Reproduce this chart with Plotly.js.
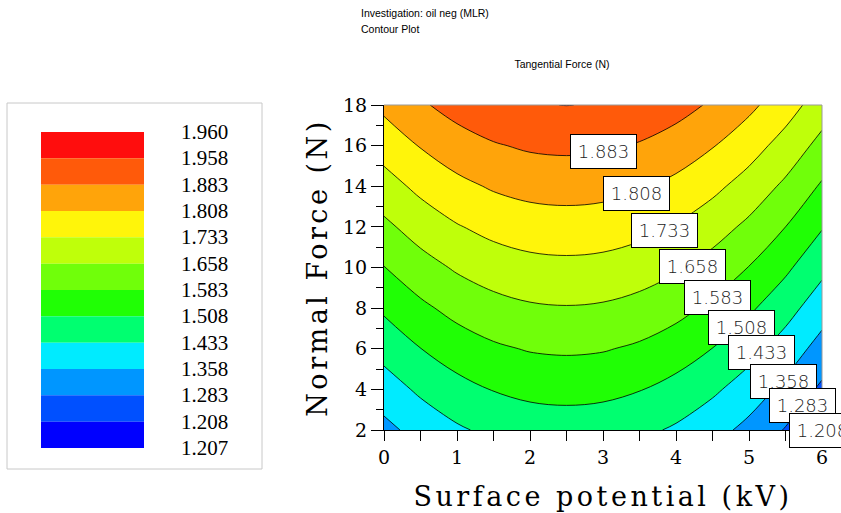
<!DOCTYPE html>
<html><head><meta charset="utf-8">
<script src="https://cdn.plot.ly/plotly-3.0.1.min.js"></script>
<style>
html,body{margin:0;padding:0;background:#fff;}
#chart{width:841px;height:513px;}
.xtitle,.ytitle{letter-spacing:3.5px;}
</style></head><body><div id="chart"></div>
<script>
// ---- data ----
const surfacePotential = [0, 0.5, 1, 1.5, 2, 2.5, 3, 3.5, 4, 4.5, 5, 5.5, 6];
const normalForce = [2, 4, 6, 8, 10, 12, 14, 16, 18];
const tangentialForce = [
  [1.337,1.385,1.423,1.450,1.466,1.471,1.466,1.450,1.423,1.385,1.337,1.278,1.205],
  [1.398,1.446,1.484,1.511,1.527,1.532,1.527,1.511,1.484,1.446,1.398,1.339,1.269],
  [1.459,1.507,1.545,1.572,1.588,1.593,1.588,1.572,1.545,1.507,1.459,1.400,1.330],
  [1.520,1.568,1.606,1.633,1.649,1.654,1.649,1.633,1.606,1.568,1.520,1.461,1.391],
  [1.581,1.629,1.667,1.694,1.710,1.715,1.710,1.694,1.667,1.629,1.581,1.522,1.452],
  [1.642,1.690,1.728,1.755,1.771,1.776,1.771,1.755,1.728,1.690,1.642,1.583,1.513],
  [1.703,1.751,1.789,1.816,1.832,1.837,1.832,1.816,1.789,1.751,1.703,1.644,1.574],
  [1.764,1.812,1.850,1.877,1.893,1.898,1.893,1.877,1.850,1.812,1.764,1.705,1.635],
  [1.825,1.873,1.911,1.938,1.954,1.959,1.954,1.938,1.911,1.873,1.825,1.766,1.696]
];
const legendLabels = ['1.960','1.958','1.883','1.808','1.733','1.658','1.583','1.508','1.433','1.358','1.283','1.208','1.207'];
const bandColors = ['#FF0D0D','#FF5A0A','#FFA40A','#FFF50A','#BFFF0A','#70FF0A','#20FF05','#00FF70','#00EBFF','#0096FF','#0050FF','#0000FF'];
const contourLabels = ['1.883','1.808','1.733','1.658','1.583','1.508','1.433','1.358','1.283','1.208'];

// ---- label placement (layout, pixel centres of the label boxes) ----
const labelPx = [603, 636, 664, 692, 717, 741, 761, 783, 802, 822];
const labelPy = [151, 193, 230, 266, 297, 327, 352, 381, 405, 431];

const W = 841, H = 513, L = 384, R = 19, T = 105, B = 83;
const pw = W - L - R, ph = H - T - B;
const px = v => (v - L) / pw;
const py = v => (H - B - v) / ph;

const nb = bandColors.length;
const colorscale = bandColors.slice().reverse().map((c, i) => [i / (nb - 1), c]);

const trace = {
  type: 'contour',
  x: surfacePotential, y: normalForce, z: tangentialForce,
  autocontour: false,
  contours: {start: 1.208, end: 1.9585, size: 0.075, coloring: 'fill', showlines: true},
  line: {color: '#000', width: 0.8, smoothing: 1},
  colorscale: colorscale,
  showscale: false,
  hoverinfo: 'skip'
};

const shapes = [];
const annotations = [];
// legend box
shapes.push({type:'rect', xref:'paper', yref:'paper', x0:px(7), x1:px(262), y0:py(469), y1:py(103),
  line:{color:'#c8c8c8', width:1}, fillcolor:'#fff', layer:'below'});
const bandTop = 132, bandH = 26.33;
bandColors.forEach((c, i) => {
  shapes.push({type:'rect', xref:'paper', yref:'paper', x0:px(41), x1:px(144),
    y0:py(bandTop + (i + 1) * bandH), y1:py(bandTop + i * bandH),
    line:{width:0}, fillcolor:c, layer:'above'});
});
legendLabels.forEach((t, i) => {
  annotations.push({xref:'paper', yref:'paper', x:px(179), y:py(bandTop + i * bandH),
    xanchor:'left', yanchor:'middle', text:t, showarrow:false,
    font:{family:'Liberation Serif', size:21, color:'#000'}});
});
// top and right frame
shapes.push({type:'line', xref:'paper', yref:'paper', x0:0, x1:1, y0:1, y1:1, line:{color:'#999', width:1}});
shapes.push({type:'line', xref:'paper', yref:'paper', x0:1, x1:1, y0:0, y1:1, line:{color:'#999', width:1}});
// contour labels
contourLabels.forEach((t, i) => {
  annotations.push({xref:'paper', yref:'paper', x:px(labelPx[i]), y:py(labelPy[i]), text:t, showarrow:false,
    xanchor:'center', yanchor:'middle', bgcolor:'#fff', bordercolor:'#000', borderwidth:1,
    borderpad:0, width:65, height:33,
    font:{family:'DejaVu Sans', size:18, color:'#222', weight:300}});
});
// header texts
annotations.push({xref:'paper', yref:'paper', x:px(359), y:py(13), xanchor:'left', yanchor:'middle',
  text:'Investigation: oil neg (MLR)', showarrow:false, font:{family:'Liberation Sans', size:10.5, color:'#000'}});
annotations.push({xref:'paper', yref:'paper', x:px(359), y:py(29), xanchor:'left', yanchor:'middle',
  text:'Contour Plot', showarrow:false, font:{family:'Liberation Sans', size:10.5, color:'#000'}});

const axisFont = {family:'DejaVu Serif', size:19, color:'#000'};
const layout = {
  width: W, height: H,
  margin: {l:L, r:R, t:T, b:B, pad:0},
  paper_bgcolor:'#fff', plot_bgcolor:'#fff',
  title: {text:'Tangential Force (N)', xref:'container', yref:'container', x:562/W, y:1 - 64/H,
    xanchor:'center', yanchor:'middle', font:{family:'Liberation Sans', size:10.5, color:'#000'}},
  xaxis: {range:[0,6], tick0:0, dtick:1, ticks:'outside', ticklen:10, tickcolor:'#000', tickwidth:1,
    showline:true, linecolor:'#000', linewidth:1, showgrid:false, zeroline:false, tickfont:axisFont,
    minor:{dtick:0.5, ticks:'outside', ticklen:10, tickcolor:'#000', showgrid:false},
    title:{text:'Surface potential (kV)', font:{family:'DejaVu Serif', size:27, color:'#000'}, standoff:20}},
  yaxis: {range:[2,18], tick0:2, dtick:2, ticks:'outside', ticklen:12, tickcolor:'#000', tickwidth:1,
    showline:true, linecolor:'#000', linewidth:1, showgrid:false, zeroline:false, tickfont:axisFont,
    minor:{dtick:1, ticks:'outside', ticklen:7, tickcolor:'#000', showgrid:false},
    title:{text:'Normal Force (N)', font:{family:'DejaVu Serif', size:27, color:'#000'}, standoff:7}},
  shapes: shapes,
  annotations: annotations,
  showlegend: false
};

Plotly.newPlot('chart', [trace], layout, {displayModeBar:false, staticPlot:true});
</script></body></html>
